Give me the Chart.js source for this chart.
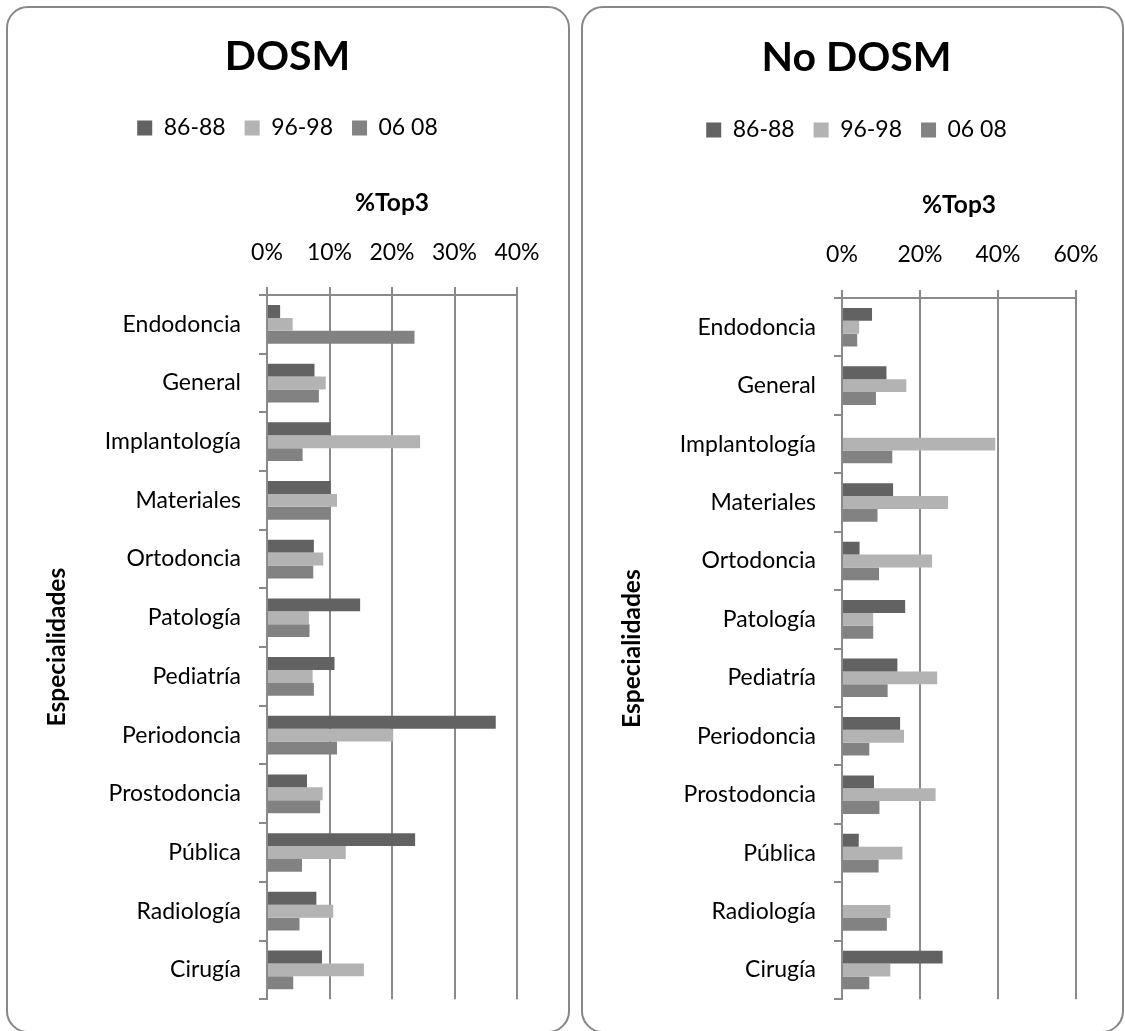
<!DOCTYPE html>
<html>
<head>
<meta charset="utf-8">
<script src="https://cdn.jsdelivr.net/npm/chart.js@4/dist/chart.umd.min.js"></script>
<style>
  html, body { margin: 0; padding: 0; background: #fff; }
  #page { position: relative; width: 1125px; height: 1031px; overflow: hidden; background: #fff; }
  .frame { position: absolute; border: 2px solid #888; border-radius: 22px; box-sizing: border-box; }
  #frameA { left: 6px; top: 6px; width: 564px; height: 1027px; }
  #frameB { left: 581px; top: 6px; width: 543px; height: 1027px; }
  canvas { position: absolute; top: 0; }
  #chartA { left: 0; }
  #chartB { left: 575px; }
</style>
</head>
<body>
<div id="page">
  <div class="frame" id="frameA"></div>
  <div class="frame" id="frameB"></div>
  <canvas id="chartA" width="575" height="1031"></canvas>
  <canvas id="chartB" width="550" height="1031"></canvas>
</div>
<script>
// Specialities, top to bottom
const categories = ['Endodoncia', 'General', 'Implantología', 'Materiales', 'Ortodoncia',
  'Patología', 'Pediatría', 'Periodoncia', 'Prostodoncia', 'Pública', 'Radiología', 'Cirugía'];
const periods = ['86-88', '96-98', '06 08'];

// %Top3 per speciality — DOSM
const dosm_86_88 = [2.1, 7.6, 10.2, 10.2, 7.5, 14.9, 10.8, 36.6, 6.4, 23.7, 7.9, 8.8];
const dosm_96_98 = [4.1, 9.4, 24.5, 11.2, 9.0, 6.7, 7.3, 20.2, 8.9, 12.6, 10.6, 15.5];
const dosm_06_08 = [23.6, 8.3, 5.7, 10.1, 7.4, 6.8, 7.5, 11.2, 8.5, 5.6, 5.2, 4.2];

// %Top3 per speciality — No DOSM
const nodosm_86_88 = [7.7, 11.4, 0, 13.1, 4.5, 16.2, 14.2, 14.9, 8.2, 4.3, 0, 25.8];
const nodosm_96_98 = [4.4, 16.5, 39.3, 27.2, 23.1, 8.0, 24.4, 15.9, 24.0, 15.5, 12.4, 12.4];
const nodosm_06_08 = [3.9, 8.7, 12.9, 9.1, 9.5, 8.0, 11.7, 7.0, 9.6, 9.4, 11.5, 7.0];

// Axis ranges
const dosmAxis = { max: 40, step: 10 };
const nodosmAxis = { max: 60, step: 20 };

const periodColors = ['#626262', '#b3b3b3', '#828282'];
const lineColor = '#8a8a8a';
const FONT = 'Lato, "Open Sans", "DejaVu Sans", sans-serif';
const TEXT = 23;
const LH = TEXT * 1.2;
const AXIS_TITLE = 24.5;
const AXIS_TITLE_LH = AXIS_TITLE * 1.2;
const TITLE = 41;
const TITLE_LH = TITLE * 1.2;
const LEGEND_PAD = 19;

Chart.defaults.font.family = FONT;
Chart.defaults.color = '#000';

function makeChart(canvasId, titleText, series, axis, g) {
  // vertical layout of the stacked top boxes (title, legend, top axis)
  const titlePadTop = g.titleY - TITLE_LH / 2;
  const titlePadBottom = g.legendY - TEXT / 2 - LEGEND_PAD - g.titleY - TITLE_LH / 2;
  const legendBottom = g.legendY - TEXT / 2 + TEXT + 10;
  const xAxisHeight = g.top - legendBottom;
  const xTitlePad = g.axisTitleY - legendBottom - AXIS_TITLE_LH / 2;
  const xTickPad = g.top - 8 - LH / 2 - g.tickY;

  return new Chart(document.getElementById(canvasId), {
    type: 'bar',
    data: {
      labels: categories,
      datasets: series.map((values, i) => ({
        label: periods[i],
        data: values,
        backgroundColor: periodColors[i],
        borderWidth: 0,
        categoryPercentage: 0.66,
        barPercentage: 1.0
      }))
    },
    options: {
      indexAxis: 'y',
      responsive: false,
      animation: false,
      devicePixelRatio: 1,
      layout: { padding: { left: g.padL, right: g.padR, top: 0, bottom: g.padB } },
      plugins: {
        title: {
          display: true,
          text: titleText,
          color: '#000',
          font: { size: TITLE, weight: 'bold', family: FONT },
          padding: { top: titlePadTop, bottom: titlePadBottom }
        },
        legend: {
          display: true,
          position: 'top',
          labels: {
            boxWidth: 15,
            boxHeight: 15,
            padding: LEGEND_PAD,
            color: '#000',
            font: { size: TEXT, family: FONT }
          }
        },
        tooltip: { enabled: false }
      },
      scales: {
        x: {
          position: 'top',
          min: 0,
          max: axis.max,
          ticks: {
            stepSize: axis.step,
            padding: xTickPad,
            color: '#000',
            font: { size: TEXT },
            callback: v => v + '%'
          },
          grid: { color: lineColor, lineWidth: 2, tickLength: 8, drawTicks: true },
          border: { color: lineColor, width: 2 },
          title: {
            display: true,
            text: '%Top3',
            color: '#000',
            font: { size: AXIS_TITLE, weight: 'bold' },
            padding: { top: xTitlePad, bottom: 0 }
          },
          afterFit: s => { s.height = xAxisHeight; }
        },
        y: {
          ticks: {
            padding: 18,
            color: '#000',
            font: { size: TEXT },
            autoSkip: false
          },
          grid: { color: lineColor, lineWidth: 2, tickLength: 8, drawOnChartArea: false, offset: true },
          border: { color: lineColor, width: 2 },
          title: {
            display: true,
            text: 'Especialidades',
            color: '#000',
            font: { size: AXIS_TITLE, weight: 'bold' },
            padding: { top: g.yTitleX - g.padL - AXIS_TITLE_LH / 2, bottom: 0 }
          },
          afterFit: s => { s.width = g.left - g.padL; }
        }
      }
    }
  });
}

makeChart('chartA', 'DOSM', [dosm_86_88, dosm_96_98, dosm_06_08], dosmAxis, {
  titleY: 57, legendY: 128, axisTitleY: 203, tickY: 253, top: 295,
  left: 267, padL: 58, padR: 58, padB: 25, yTitleX: 57
});

makeChart('chartB', 'No DOSM', [nodosm_86_88, nodosm_96_98, nodosm_06_08], nodosmAxis, {
  titleY: 57.5, legendY: 130, axisTitleY: 205, tickY: 255, top: 298,
  left: 267, padL: 62, padR: 49, padB: 24.5, yTitleX: 57
});
</script>
</body>
</html>
